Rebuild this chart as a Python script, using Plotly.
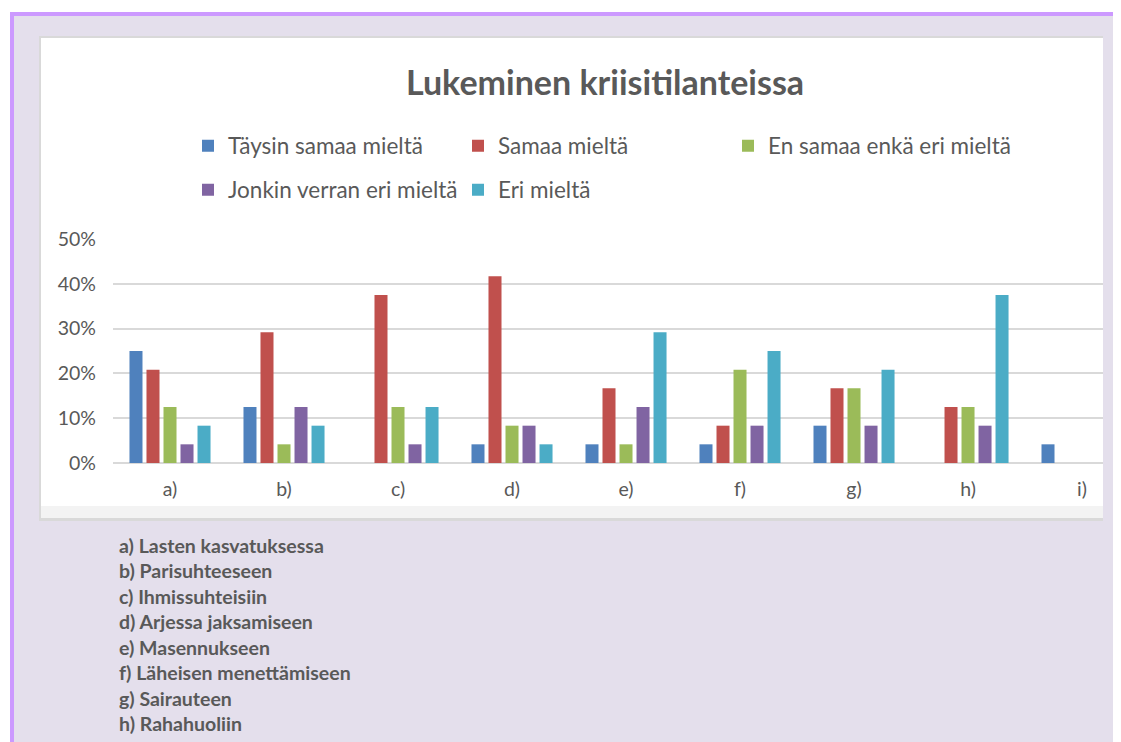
import plotly.graph_objects as go

categories = ["a)", "b)", "c)", "d)", "e)", "f)", "g)", "h)", "i)"]
series_names = ["Täysin samaa mieltä", "Samaa mieltä", "En samaa enkä eri mieltä",
                "Jonkin verran eri mieltä", "Eri mieltä"]
taysin = [0.25, 0.125, 0.0, 0.0417, 0.0417, 0.0417, 0.0833, 0.0, 0.0417]
samaa = [0.2083, 0.2917, 0.375, 0.4167, 0.1667, 0.0833, 0.1667, 0.125, 0.0]
en_samaa = [0.125, 0.0417, 0.125, 0.0833, 0.0417, 0.2083, 0.1667, 0.125, 0.0]
jonkin = [0.0417, 0.125, 0.0417, 0.0833, 0.125, 0.0833, 0.0833, 0.0833, 0.0]
eri = [0.0833, 0.0833, 0.125, 0.0417, 0.2917, 0.25, 0.2083, 0.375, 0.0]
colors = ["#4F81BD", "#C0504D", "#9BBB59", "#8064A2", "#4BACC6"]
tick_vals = [0, 0.1, 0.2, 0.3, 0.4, 0.5]
tick_text = ["0%", "10%", "20%", "30%", "40%", "50%"]
descriptions = ["a) Lasten kasvatuksessa", "b) Parisuhteeseen", "c) Ihmissuhteisiin",
                "d) Arjessa jaksamiseen", "e) Masennukseen", "f) Läheisen menettämiseen",
                "g) Sairauteen", "h) Rahahuoliin"]
title = "Lukeminen kriisitilanteissa"

W, H = 1121, 742
OFF = 8  # page body offset of the plot div
FONT = "Lato"
GRAY = "#595959"


def px(x):
    return (x - OFF) / W


def py(y):
    return 1 - (y - OFF) / H


fig = go.Figure()
values = [taysin, samaa, en_samaa, jonkin, eri]
for i, (name, vals, col) in enumerate(zip(series_names, values, colors)):
    fig.add_trace(go.Bar(
        x=categories, y=vals, name=name,
        marker=dict(color=col, line=dict(width=0)),
        legend="legend" if i < 3 else "legend2",
        legendwidth=290 if i in (2, 4) else None,
    ))

shapes = [
    # light purple page area
    dict(type="rect", xref="paper", yref="paper", x0=px(10), x1=px(1200), y0=py(800), y1=py(12),
         fillcolor="#E4DFEC", line=dict(width=0), layer="below"),
    # purple page frame
    dict(type="rect", xref="paper", yref="paper", x0=px(10), x1=px(1200), y0=py(16), y1=py(12),
         fillcolor="#CC99FF", line=dict(width=0), layer="below"),
    dict(type="rect", xref="paper", yref="paper", x0=px(10), x1=px(14), y0=py(800), y1=py(12),
         fillcolor="#CC99FF", line=dict(width=0), layer="below"),
    # chart box shadow + white box
    dict(type="rect", xref="paper", yref="paper", x0=px(39), x1=px(1103), y0=py(521), y1=py(36),
         fillcolor="#D9D9D9", line=dict(width=0), layer="below"),
    dict(type="rect", xref="paper", yref="paper", x0=px(41), x1=px(1103), y0=py(518), y1=py(38),
         fillcolor="#FFFFFF", line=dict(width=0), layer="below"),
    dict(type="rect", xref="paper", yref="paper", x0=px(41), x1=px(1103), y0=py(518), y1=py(506),
         fillcolor="rgba(238,238,238,0.7)", line=dict(width=0), layer="below"),
]

annotations = [
    dict(text=title, xref="paper", yref="paper", x=px(605), y=py(82), xanchor="center",
         yanchor="middle", showarrow=False,
         font=dict(family=FONT, size=34, color=GRAY, weight="bold")),
]
line_y = [545, 570.5, 596, 621.5, 647, 672.5, 698, 723.5]
for txt, yy in zip(descriptions, line_y):
    annotations.append(dict(text=txt, xref="paper", yref="paper", x=px(117), y=py(yy),
                            xanchor="left", yanchor="middle", showarrow=False,
                            font=dict(family=FONT, size=19.5, color=GRAY, weight="bold")))

legend_common = dict(orientation="h", xanchor="left", yanchor="middle",
                     entrywidth=225, entrywidthmode="pixels", bgcolor="rgba(0,0,0,0)",
                     font=dict(family=FONT, size=22.5, color=GRAY), traceorder="normal")

fig.update_layout(
    width=W, height=H,
    margin=dict(l=0, r=0, t=0, b=0, autoexpand=False),
    paper_bgcolor="#FFFFFF",
    plot_bgcolor="rgba(0,0,0,0)",
    barmode="group", bargap=0.254, bargroupgap=0.235,
    font=dict(family=FONT, color=GRAY),
    shapes=shapes, annotations=annotations,
    legend=dict(x=px(188), y=py(146), **legend_common),
    legend2=dict(x=px(188), y=py(190), **legend_common),
    xaxis=dict(domain=[px(113), px(1103)], range=[-0.5, 8.184], showgrid=False,
               tickfont=dict(family=FONT, size=19.5, color=GRAY), ticks="",
               ticklabelstandoff=12, showline=False, fixedrange=True, automargin=False),
    yaxis=dict(domain=[py(463), py(239)], range=[0, 0.5], tickvals=tick_vals, ticktext=tick_text,
               showgrid=True, gridcolor="#D9D9D9", gridwidth=1.5, zeroline=True,
               zerolinecolor="#D9D9D9", zerolinewidth=1.5,
               tickfont=dict(family=FONT, size=19.5, color=GRAY), ticks="",
               ticklabelstandoff=16, fixedrange=True, automargin=False),
)

fig.write_html("out.html")
